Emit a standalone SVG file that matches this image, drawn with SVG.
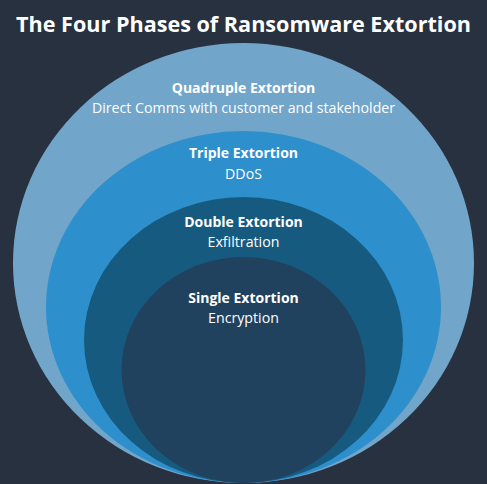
<svg xmlns="http://www.w3.org/2000/svg" width="487" height="484" viewBox="0 0 487 484">
<style>
.t{font-family:"Open Sans","Noto Sans","DejaVu Sans",sans-serif;fill:#ffffff;text-anchor:middle}
.h{font-size:14px;font-weight:bold}
.s{font-size:14.2px}
.title{font-size:21.6px;font-weight:bold}
</style>
<rect width="487" height="484" fill="#283140"/>
<text class="t title" x="243.5" y="32">The Four Phases of Ransomware Extortion</text>
<g id="quadruple">
<ellipse cx="243.5" cy="263" rx="230.5" ry="220" fill="#71A5C9"/>
<text class="t h" x="243.5" y="93">Quadruple Extortion</text>
<text class="t s" x="243.5" y="113">Direct Comms with customer and stakeholder</text>
</g>
<g id="triple">
<ellipse cx="243.5" cy="307" rx="197.5" ry="176" fill="#2E8FCD"/>
<text class="t h" x="243.5" y="158">Triple Extortion</text>
<text class="t s" x="243.5" y="179">DDoS</text>
</g>
<g id="double">
<ellipse cx="243.5" cy="340" rx="159.5" ry="143" fill="#175A80"/>
<text class="t h" x="243.5" y="227">Double Extortion</text>
<text class="t s" x="243.5" y="247">Exfiltration</text>
</g>
<g id="single">
<ellipse cx="243.5" cy="370" rx="122" ry="113" fill="#21425E"/>
<text class="t h" x="243.5" y="303">Single Extortion</text>
<text class="t s" x="243.5" y="323">Encryption</text>
</g>
<g id="connectors"/>
</svg>
